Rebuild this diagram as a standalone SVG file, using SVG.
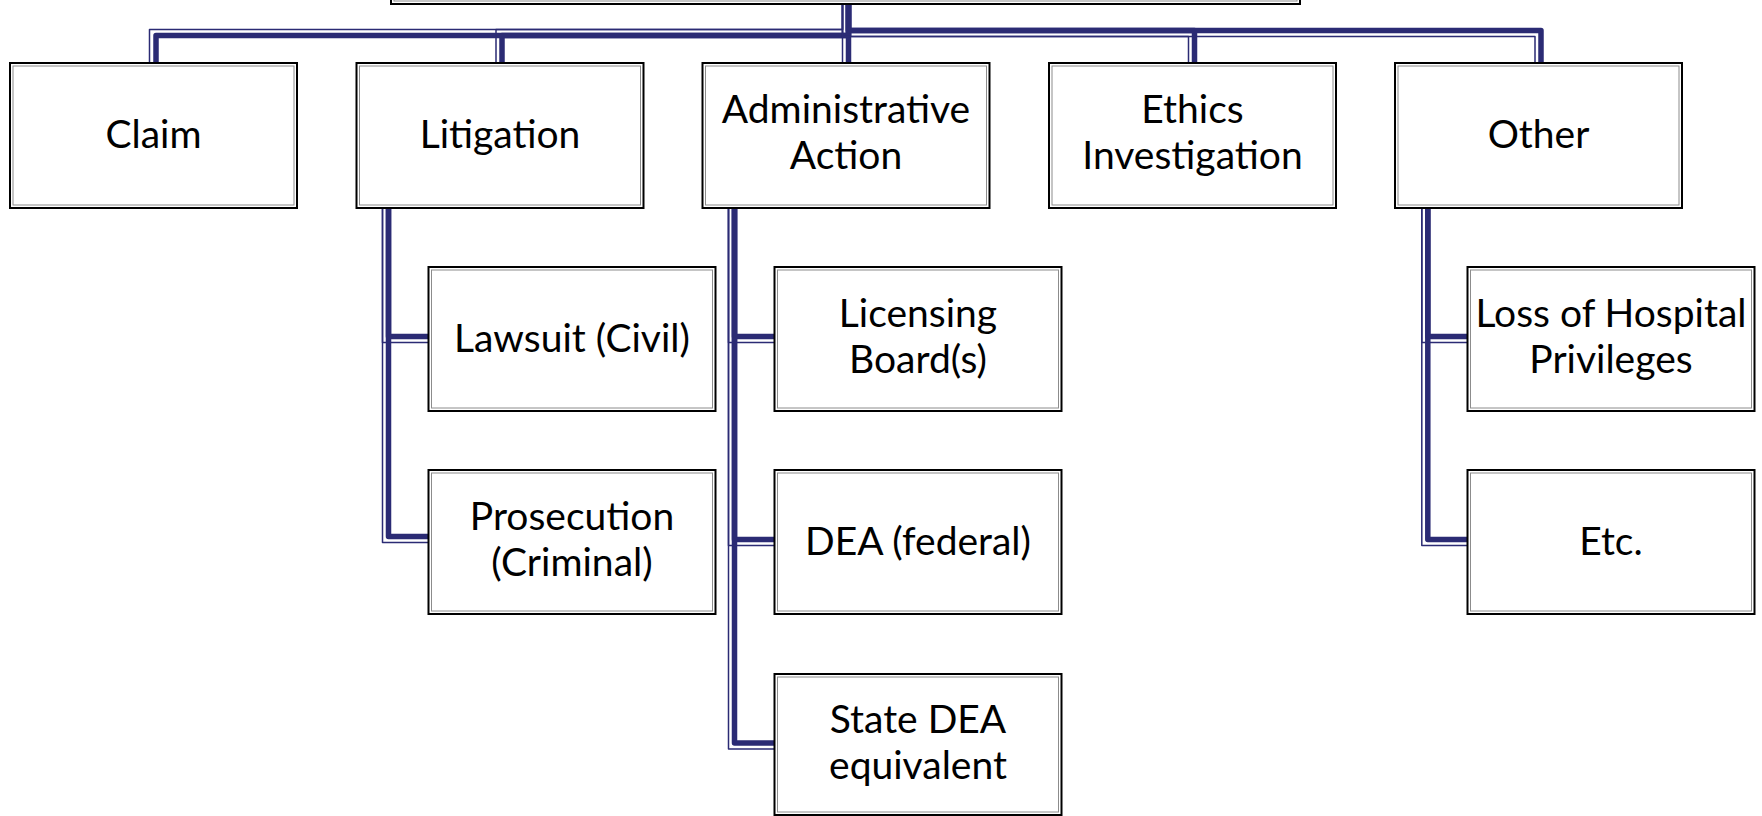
<svg xmlns="http://www.w3.org/2000/svg" width="1762" height="816" viewBox="0 0 1762 816">
<style>
.box{fill:#fff;stroke:#000;stroke-width:2}
.inner{fill:none;stroke:#8c8c8c;stroke-width:1}
.thick{fill:none;stroke:#2b2b74;stroke-width:5.5;stroke-linejoin:round}
.thin{fill:none;stroke:#2b2b74;stroke-width:1.5;stroke-linejoin:round}
text{font-family:Lato,"Open Sans","Liberation Sans",sans-serif;font-size:39px;fill:#000;text-anchor:middle}
</style>
<rect width="1762" height="816" fill="#fff"/>
<g id="connectors">
<path class="thin" d="M842.5 4 V29.5 H149.5 V63"/>
<path class="thick" d="M848.5 4 V35.5 H156 V63"/>
<path class="thin" d="M842.5 4 V29.5 H496 V63"/>
<path class="thick" d="M848.5 4 V35.5 H502 V63"/>
<path class="thin" d="M842.5 4 V63"/>
<path class="thick" d="M848.5 4 V63"/>
<path class="thin" d="M842.5 4 V36.5 H1188.5 V63"/>
<path class="thick" d="M848.5 4 V30.5 H1194.5 V63"/>
<path class="thin" d="M842.5 4 V36.5 H1535 V63"/>
<path class="thick" d="M848.5 4 V30.5 H1541 V63"/>
<path class="thin" d="M382.5 208 V542.5 H428"/>
<path class="thick" d="M388.5 208 V536.5 H428"/>
<path class="thin" d="M382.5 208 V342.5 H428"/>
<path class="thick" d="M388.5 208 V336.5 H428"/>
<path class="thin" d="M728.5 208 V749 H774"/>
<path class="thick" d="M734.5 208 V743 H774"/>
<path class="thin" d="M728.5 208 V545.5 H774"/>
<path class="thick" d="M734.5 208 V539.5 H774"/>
<path class="thin" d="M728.5 208 V342.5 H774"/>
<path class="thick" d="M734.5 208 V336.5 H774"/>
<path class="thin" d="M1421.8 208 V545.5 H1467"/>
<path class="thick" d="M1427.8 208 V539.5 H1467"/>
<path class="thin" d="M1421.8 208 V342.5 H1467"/>
<path class="thick" d="M1427.8 208 V336.5 H1467"/>
</g>
<g id="root">
<rect class="box" x="391" y="-60" width="909" height="64"/>
<rect class="inner" x="394" y="-57" width="903" height="58"/>
</g>
<g id="claim">
<rect class="box" x="10" y="63" width="287" height="145"/>
<rect class="inner" x="13" y="66" width="281" height="139"/>
<text x="153.5" y="148">Claim</text>
</g>
<g id="litigation">
<rect class="box" x="356.5" y="63" width="287" height="145"/>
<rect class="inner" x="359.5" y="66" width="281" height="139"/>
<text x="500" y="148">Litigation</text>
</g>
<g id="administrative">
<rect class="box" x="702.5" y="63" width="287" height="145"/>
<rect class="inner" x="705.5" y="66" width="281" height="139"/>
<text x="846" y="123">Administrative</text>
<text x="846" y="169">Action</text>
</g>
<g id="ethics">
<rect class="box" x="1049" y="63" width="287" height="145"/>
<rect class="inner" x="1052" y="66" width="281" height="139"/>
<text x="1192.5" y="123">Ethics</text>
<text x="1192.5" y="169">Investigation</text>
</g>
<g id="other">
<rect class="box" x="1395" y="63" width="287" height="145"/>
<rect class="inner" x="1398" y="66" width="281" height="139"/>
<text x="1538.5" y="148">Other</text>
</g>
<g id="lawsuit">
<rect class="box" x="428.5" y="267" width="287" height="144"/>
<rect class="inner" x="431.5" y="270" width="281" height="138"/>
<text x="572" y="352">Lawsuit (Civil)</text>
</g>
<g id="prosecution">
<rect class="box" x="428.5" y="470" width="287" height="144"/>
<rect class="inner" x="431.5" y="473" width="281" height="138"/>
<text x="572" y="530">Prosecution</text>
<text x="572" y="576">(Criminal)</text>
</g>
<g id="licensing">
<rect class="box" x="774.5" y="267" width="287" height="144"/>
<rect class="inner" x="777.5" y="270" width="281" height="138"/>
<text x="918" y="327">Licensing</text>
<text x="918" y="373">Board(s)</text>
</g>
<g id="dea">
<rect class="box" x="774.5" y="470" width="287" height="144"/>
<rect class="inner" x="777.5" y="473" width="281" height="138"/>
<text x="918" y="555">DEA (federal)</text>
</g>
<g id="statedea">
<rect class="box" x="774.5" y="674" width="287" height="141"/>
<rect class="inner" x="777.5" y="677" width="281" height="135"/>
<text x="918" y="732.5">State DEA</text>
<text x="918" y="778.5">equivalent</text>
</g>
<g id="hospital">
<rect class="box" x="1467.5" y="267" width="287" height="144"/>
<rect class="inner" x="1470.5" y="270" width="281" height="138"/>
<text x="1611" y="327">Loss of Hospital</text>
<text x="1611" y="373">Privileges</text>
</g>
<g id="etc">
<rect class="box" x="1467.5" y="470" width="287" height="144"/>
<rect class="inner" x="1470.5" y="473" width="281" height="138"/>
<text x="1611" y="555">Etc.</text>
</g>
</svg>
